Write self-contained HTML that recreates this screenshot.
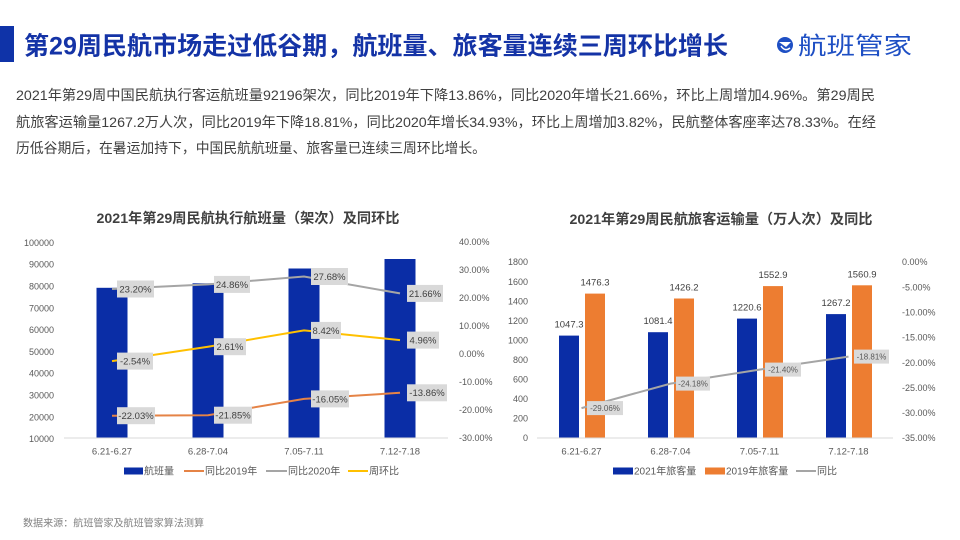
<!DOCTYPE html>
<html><head><meta charset="utf-8"><style>
html,body{margin:0;padding:0;background:#fff;}
svg{display:block;}
text{font-family:"Liberation Sans","Noto Sans CJK SC",sans-serif;}
</style></head><body>
<svg width="960" height="540" viewBox="0 0 960 540" xmlns="http://www.w3.org/2000/svg">
<rect width="960" height="540" fill="#fff"/>
<!-- Title -->
<rect x="0" y="26" width="14" height="36" fill="#0f33a8"/>
<text x="24" y="54.5" font-size="25" font-weight="bold" fill="#1433a6" textLength="704" lengthAdjust="spacingAndGlyphs">第29周民航市场走过低谷期，航班量、旅客量连续三周环比增长</text>
<!-- Logo -->
<g>
<circle cx="785" cy="45" r="8" fill="#1e4fc4"/>
<path d="M779 42 L791 42 L786 47 Z" fill="#fff"/>
<path d="M781 46 Q785 52 790 48" stroke="#fff" stroke-width="1.5" fill="none"/>
</g>
<text x="798" y="54" font-size="24" fill="#1e4fc4" textLength="114" lengthAdjust="spacingAndGlyphs">航班管家</text>
<!-- Paragraph -->
<g font-size="14" fill="#404040">
<text x="16" y="100" textLength="859" lengthAdjust="spacingAndGlyphs">2021年第29周中国民航执行客运航班量92196架次，同比2019年下降13.86%，同比2020年增长21.66%，环比上周增加4.96%。第29周民</text>
<text x="16" y="127" textLength="860" lengthAdjust="spacingAndGlyphs">航旅客运输量1267.2万人次，同比2019年下降18.81%，同比2020年增长34.93%，环比上周增加3.82%，民航整体客座率达78.33%。在经</text>
<text x="16" y="153" textLength="470" lengthAdjust="spacingAndGlyphs">历低谷期后，在暑运加持下，中国民航航班量、旅客量已连续三周环比增长。</text>
</g>

<!-- LEFT CHART -->
<text x="248" y="223" font-size="14" font-weight="bold" fill="#404040" text-anchor="middle" textLength="303" lengthAdjust="spacingAndGlyphs">2021年第29周民航执行航班量（架次）及同环比</text>
<g font-size="9" fill="#595959" text-anchor="end">
<text x="54" y="245.9">100000</text>
<text x="54" y="267.7">90000</text>
<text x="54" y="289.5">80000</text>
<text x="54" y="311.3">70000</text>
<text x="54" y="333.1">60000</text>
<text x="54" y="354.9">50000</text>
<text x="54" y="376.7">40000</text>
<text x="54" y="398.5">30000</text>
<text x="54" y="420.3">20000</text>
<text x="54" y="442.1">10000</text>
</g>
<g font-size="9" fill="#595959">
<text x="459" y="245.2">40.00%</text>
<text x="459" y="273.2">30.00%</text>
<text x="459" y="301.2">20.00%</text>
<text x="459" y="329.2">10.00%</text>
<text x="459" y="357.2">0.00%</text>
<text x="459" y="385.2">-10.00%</text>
<text x="459" y="413.2">-20.00%</text>
<text x="459" y="441.2">-30.00%</text>
</g>
<g fill="#0a2da6">
<rect x="96.5" y="287.8" width="31" height="150.2"/>
<rect x="192.5" y="283.3" width="31" height="154.7"/>
<rect x="288.5" y="268.5" width="31" height="169.5"/>
<rect x="384.5" y="259" width="31" height="179"/>
</g>
<line x1="64" y1="438" x2="448" y2="438" stroke="#d9d9d9" stroke-width="1"/>
<polyline points="112,289 208,284.4 304,276.5 400,293.4" fill="none" stroke="#a5a5a5" stroke-width="2"/>
<polyline points="112,361.1 208,346.7 304,330.4 400,340.1" fill="none" stroke="#ffc000" stroke-width="2"/>
<polyline points="112,415.7 208,415.2 304,398.9 400,392.8" fill="none" stroke="#e58346" stroke-width="2"/>
<g fill="#d9d9d9">
<rect x="117" y="280.5" width="37" height="17"/>
<rect x="214" y="275.9" width="36" height="17"/>
<rect x="311" y="268" width="37" height="17"/>
<rect x="407" y="284.9" width="36" height="17"/>
<rect x="117" y="352.6" width="36" height="17"/>
<rect x="214" y="338.2" width="32" height="17"/>
<rect x="311" y="321.9" width="30" height="17"/>
<rect x="407" y="331.6" width="32" height="17"/>
<rect x="117" y="407.2" width="38" height="17"/>
<rect x="214" y="406.7" width="38" height="17"/>
<rect x="311" y="390.4" width="38" height="17"/>
<rect x="407" y="384.3" width="40" height="17"/>
</g>
<g font-size="9.5" fill="#404040" text-anchor="middle">
<text x="135.5" y="292.4">23.20%</text>
<text x="232" y="287.8">24.86%</text>
<text x="329.5" y="279.9">27.68%</text>
<text x="425" y="296.8">21.66%</text>
<text x="135" y="364.5">-2.54%</text>
<text x="230" y="350.1">2.61%</text>
<text x="326" y="333.8">8.42%</text>
<text x="423" y="343.5">4.96%</text>
<text x="136" y="419.1">-22.03%</text>
<text x="233" y="418.6">-21.85%</text>
<text x="330" y="402.3">-16.05%</text>
<text x="427" y="396.2">-13.86%</text>
</g>
<g font-size="9.5" fill="#595959" text-anchor="middle">
<text x="112" y="454.5">6.21-6.27</text>
<text x="208" y="454.5">6.28-7.04</text>
<text x="304" y="454.5">7.05-7.11</text>
<text x="400" y="454.5">7.12-7.18</text>
</g>
<g font-size="10" fill="#595959">
<rect x="124" y="467.5" width="19" height="7" fill="#0a2da6"/>
<text x="144" y="474.5">航班量</text>
<line x1="184" y1="471" x2="204" y2="471" stroke="#e58346" stroke-width="2"/>
<text x="205" y="474.5">同比2019年</text>
<line x1="266" y1="471" x2="287" y2="471" stroke="#a5a5a5" stroke-width="2"/>
<text x="288" y="474.5">同比2020年</text>
<line x1="348" y1="471" x2="368" y2="471" stroke="#ffc000" stroke-width="2"/>
<text x="369" y="474.5">周环比</text>
</g>

<!-- RIGHT CHART -->
<text x="721" y="224" font-size="14" font-weight="bold" fill="#404040" text-anchor="middle" textLength="303" lengthAdjust="spacingAndGlyphs">2021年第29周民航旅客运输量（万人次）及同比</text>
<g font-size="9" fill="#595959" text-anchor="end">
<text x="528" y="265.2">1800</text>
<text x="528" y="284.8">1600</text>
<text x="528" y="304.3">1400</text>
<text x="528" y="323.9">1200</text>
<text x="528" y="343.4">1000</text>
<text x="528" y="363">800</text>
<text x="528" y="382.6">600</text>
<text x="528" y="402.1">400</text>
<text x="528" y="421.7">200</text>
<text x="528" y="441.2">0</text>
</g>
<g font-size="9" fill="#595959">
<text x="902" y="265.2">0.00%</text>
<text x="902" y="290.3">-5.00%</text>
<text x="902" y="315.5">-10.00%</text>
<text x="902" y="340.6">-15.00%</text>
<text x="902" y="365.8">-20.00%</text>
<text x="902" y="390.9">-25.00%</text>
<text x="902" y="416">-30.00%</text>
<text x="902" y="441.2">-35.00%</text>
</g>
<g fill="#0a2da6">
<rect x="559" y="335.6" width="20" height="102.4"/>
<rect x="648" y="332.2" width="20" height="105.8"/>
<rect x="737" y="318.6" width="20" height="119.4"/>
<rect x="826" y="314.1" width="20" height="123.9"/>
</g>
<g fill="#ed7d31">
<rect x="585" y="293.6" width="20" height="144.4"/>
<rect x="674" y="298.5" width="20" height="139.5"/>
<rect x="763" y="286.1" width="20" height="151.9"/>
<rect x="852" y="285.3" width="20" height="152.7"/>
</g>
<line x1="537" y1="438" x2="893" y2="438" stroke="#d9d9d9" stroke-width="1"/>
<g font-size="9.5" fill="#404040" text-anchor="middle">
<text x="569" y="327.6">1047.3</text>
<text x="658" y="324.2">1081.4</text>
<text x="747" y="310.6">1220.6</text>
<text x="836" y="306.1">1267.2</text>
<text x="595" y="285.6">1476.3</text>
<text x="684" y="290.5">1426.2</text>
<text x="773" y="278.1">1552.9</text>
<text x="862" y="277.3">1560.9</text>
</g>
<polyline points="581.5,408.1 670.5,383.6 759.5,369.6 848.5,356.6" fill="none" stroke="#a5a5a5" stroke-width="2"/>
<g fill="#d9d9d9">
<rect x="587" y="401.1" width="36" height="14"/>
<rect x="676" y="376.6" width="34" height="14"/>
<rect x="765" y="362.6" width="36" height="14"/>
<rect x="854" y="349.6" width="35" height="14"/>
</g>
<g font-size="8" fill="#595959" text-anchor="middle">
<text x="605" y="410.9">-29.06%</text>
<text x="693" y="386.4">-24.18%</text>
<text x="783" y="372.4">-21.40%</text>
<text x="871.5" y="359.4">-18.81%</text>
</g>
<g font-size="9.5" fill="#595959" text-anchor="middle">
<text x="581.5" y="454.5">6.21-6.27</text>
<text x="670.5" y="454.5">6.28-7.04</text>
<text x="759.5" y="454.5">7.05-7.11</text>
<text x="848.5" y="454.5">7.12-7.18</text>
</g>
<g font-size="10" fill="#595959">
<rect x="613" y="467.5" width="20" height="7" fill="#0a2da6"/>
<text x="634" y="474.5">2021年旅客量</text>
<rect x="705" y="467.5" width="20" height="7" fill="#ed7d31"/>
<text x="726" y="474.5">2019年旅客量</text>
<line x1="796" y1="471" x2="816" y2="471" stroke="#a5a5a5" stroke-width="2"/>
<text x="817" y="474.5">同比</text>
</g>

<!-- Footer -->
<text x="23" y="526.5" font-size="10" fill="#808080" textLength="181" lengthAdjust="spacingAndGlyphs">数据来源：航班管家及航班管家算法测算</text>
</svg>
</body></html>
